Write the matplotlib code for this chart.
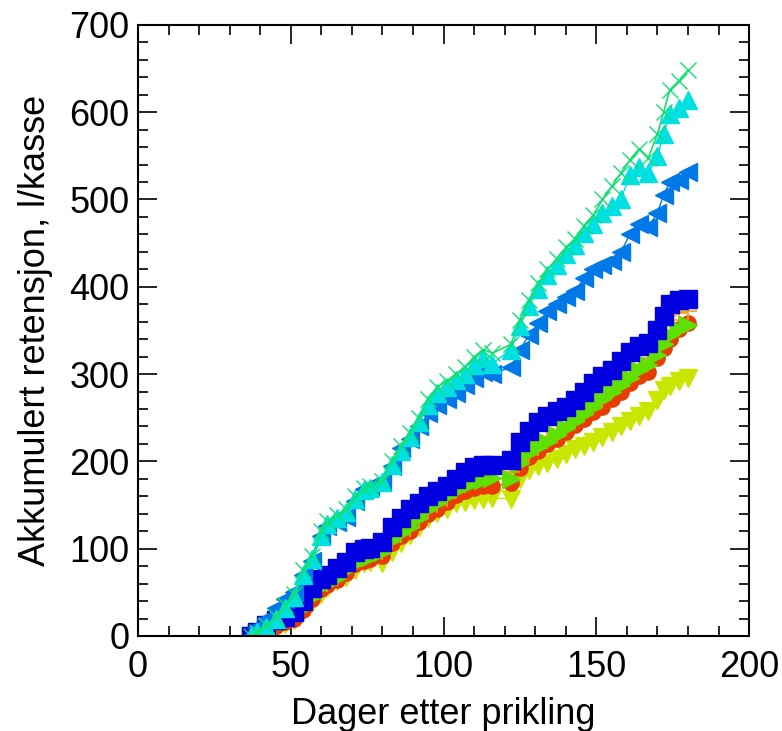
import matplotlib
matplotlib.use('Agg')
import matplotlib.pyplot as plt
from matplotlib.ticker import MultipleLocator

plt.rcParams['font.family'] = ['Liberation Sans', 'DejaVu Sans']

# dager etter prikling (felles for alle serier)
days = [37, 39, 42, 45, 48, 51, 54, 57, 60, 62, 65, 68, 71, 74, 76, 80, 83, 86, 89, 92,
        95, 98, 101, 104, 107, 110, 113, 116, 122, 125, 128, 131, 134, 137, 140, 143,
        146, 149, 152, 155, 158, 161, 164, 167, 170, 172, 174, 177, 180]

green_x = [0, 5, 12, 22, 35, 48, 75, 92, 120, 132, 138, 145, 160, 170, 172, 178, 200, 218, 232, 250,
           272, 285, 292, 300, 308, 320, 328, 324, 334, 362, 385, 404, 420, 432, 445, 455,
           470, 482, 500, 515, 530, 545, 558, 548, 575, 600, 625, 636, 648]
cyan_up = [0, 4, 10, 20, 32, 45, 70, 88, 115, 128, 135, 142, 157, 167, 170, 176, 196, 212, 228, 245,
           265, 278, 285, 293, 300, 310, 318, 312, 328, 355, 378, 398, 414, 425, 438, 448,
           462, 472, 485, 493, 500, 528, 537, 530, 550, 575, 598, 605, 614]
dodger_left = [0, 10, 20, 32, 42, 50, 70, 86, 115, 126, 130, 136, 155, 168, 172, 176, 195, 215, 226, 240,
               255, 264, 272, 278, 288, 296, 302, 300, 308, 328, 345, 358, 372, 380, 388, 395,
               410, 420, 425, 430, 440, 460, 472, 468, 485, 505, 520, 522, 532]
blue_sq = [0, 5, 12, 18, 22, 28, 40, 55, 65, 70, 78, 85, 96, 100, 101, 108, 125, 135, 145, 152,
           160, 166, 172, 180, 188, 193, 196, 196, 202, 222, 235, 245, 252, 258, 262, 270,
           280, 290, 298, 305, 315, 325, 332, 336, 350, 366, 380, 385, 386]
green_right = [0, 3, 8, 13, 18, 22, 32, 45, 56, 60, 66, 75, 85, 88, 90, 96, 110, 118, 125, 135,
               145, 152, 160, 168, 172, 176, 179, 181, 180, 198, 210, 216, 222, 230, 238, 246,
               254, 262, 272, 280, 288, 296, 305, 310, 322, 335, 345, 352, 356]
red_circ = [0, 2, 6, 11, 16, 20, 30, 42, 54, 58, 64, 72, 82, 86, 88, 92, 106, 114, 120, 130,
            140, 146, 153, 162, 166, 170, 172, 172, 175, 192, 205, 212, 220, 226, 234, 242,
            248, 256, 262, 272, 280, 290, 298, 302, 318, 330, 340, 352, 358]
orange_plus = [0, 3, 7, 12, 17, 21, 31, 44, 56, 61, 67, 76, 86, 92, 94, 97, 109, 117, 124, 134,
               144, 151, 158, 167, 174, 180, 184, 187, 188, 200, 210, 217, 224, 231, 240, 248,
               256, 264, 272, 282, 292, 300, 310, 318, 330, 345, 362, 370, 372]
yellow_down = [0, 2, 5, 9, 14, 18, 28, 38, 48, 55, 63, 68, 75, 84, 85, 84, 96, 107, 116, 125,
               135, 141, 146, 152, 154, 156, 157, 158, 157, 180, 190, 195, 198, 203, 208, 214,
               218, 222, 228, 234, 240, 246, 252, 258, 270, 282, 286, 292, 296]

fig = plt.figure(figsize=(7.82, 7.31), dpi=100)
ax = fig.add_axes([0.1765, 0.130, 0.7815, 0.836])

ax.plot(days, yellow_down, color='#c8e600', marker='v', ms=13, lw=1)
ax.plot(days, red_circ, color='#e83c00', marker='o', ms=11, lw=1)
ax.plot(days, orange_plus, color='#f0a020', marker='+', ms=13, mew=1.2, lw=1)
ax.plot(days, green_right, color='#60e000', marker='>', ms=13, lw=1)
ax.plot(days, blue_sq, color='#0000e0', marker='s', ms=13, lw=1)
ax.plot(days, dodger_left, color='#0078e8', marker='<', ms=13, lw=1)
ax.plot(days, cyan_up, color='#00e0e0', marker='^', ms=13, lw=1)
ax.plot(days, green_x, color='#10e070', marker='x', ms=11, mew=1, lw=1.2)

ax.set_xlim(0, 200)
ax.set_ylim(0, 700)
ax.xaxis.set_major_locator(MultipleLocator(50))
ax.xaxis.set_minor_locator(MultipleLocator(10))
ax.yaxis.set_major_locator(MultipleLocator(100))
ax.yaxis.set_minor_locator(MultipleLocator(20))
ax.tick_params(which='both', direction='in', top=True, right=True, width=1.2, labelsize=26)
ax.tick_params(which='major', length=14)
ax.tick_params(which='minor', length=7)
ax.tick_params(axis='x', pad=10)
ax.tick_params(axis='y', pad=6)
for s in ax.spines.values():
    s.set_linewidth(1.5)

ax.set_xlabel('Dager etter prikling', fontsize=26, labelpad=9)
ax.set_ylabel('Akkumulert retensjon, l/kasse', fontsize=26, labelpad=12)

fig.savefig('out.png', dpi=100)
